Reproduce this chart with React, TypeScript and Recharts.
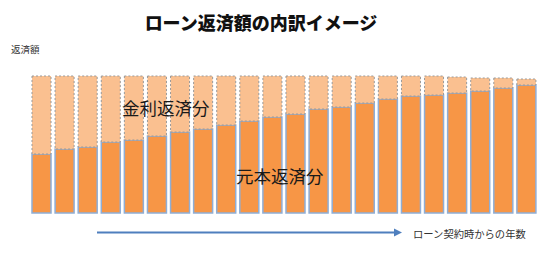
import React from "react";
import { BarChart, Bar, XAxis, YAxis } from "recharts";

const years = ["1","2","3","4","5","6","7","8","9","10","11","12","13","14","15","16","17","18","19","20","21","22"];
const principal = [59, 64, 66, 71, 73, 77, 81, 84, 88, 92, 96, 99, 104, 106, 110, 114, 117, 118, 120, 122, 125, 128];
const interest = [78, 73, 71, 66, 64, 60, 56, 53, 49, 45, 41, 38, 33, 31, 27, 23, 20, 19, 16, 13, 10, 6];

const title = "ローン返済額の内訳イメージ";
const yLabel = "返済額";
const xLabel = "ローン契約時からの年数";
const interestLabel = "金利返済分";
const principalLabel = "元本返済分";

const data = years.map((y, i) => ({ year: y, principal: principal[i], interest: interest[i] }));

const FONT = "'Noto Sans CJK JP', 'Noto Sans', sans-serif";

export default function App() {
  return (
    <div style={{ position: "absolute", left: 0, top: 0, width: 550, height: 260, background: "#fff" }}>
      <BarChart
        width={550}
        height={260}
        data={data}
        margin={{ top: 57, right: 12, bottom: 47, left: 28 }}
        barCategoryGap={0}
      >
        <XAxis
          dataKey="year"
          tick={false}
          tickLine={false}
          height={0}
          padding={{ left: 2, right: 0 }}
          axisLine={{ stroke: "#5B82BF", strokeWidth: 2 }}
        />
        <YAxis
          width={0}
          domain={[0, 156]}
          tick={false}
          tickLine={false}
          axisLine={{ stroke: "#5B82BF", strokeWidth: 2 }}
        />
        <Bar dataKey="principal" stackId="a" fill="#F79646" stroke="#8FAED6" strokeWidth={1.5} barSize={19} isAnimationActive={false} />
        <Bar dataKey="interest" stackId="a" fill="#FAC090" stroke="#9A9A9A" strokeWidth={1} strokeDasharray="2 2" barSize={19} isAnimationActive={false} />
      </BarChart>
      <svg width={550} height={260} style={{ position: "absolute", left: 0, top: 0, pointerEvents: "none" }}>
        <text x={261} y={22} textAnchor="middle" dominantBaseline="central" fontFamily={FONT} fontWeight="900" fontSize={18} fill="#111">{title}</text>
        <text x={11} y={49} dominantBaseline="central" fontFamily={FONT} fontSize={9.5} fill="#333">{yLabel}</text>
        <text x={122} y={107} dominantBaseline="central" fontFamily={FONT} fontSize={17.5} fill="#1a1a1a">{interestLabel}</text>
        <text x={236} y={175} dominantBaseline="central" fontFamily={FONT} fontSize={17.5} fill="#1a1a1a">{principalLabel}</text>
        <line x1={97} y1={232.5} x2={396} y2={232.5} stroke="#4F7FBE" strokeWidth={2} />
        <polygon points="394,228.5 402,232.5 394,236.5" fill="#4F7FBE" />
        <text x={413} y={233.5} dominantBaseline="central" fontFamily={FONT} fontSize={10.3} fill="#333">{xLabel}</text>
      </svg>
    </div>
  );
}
